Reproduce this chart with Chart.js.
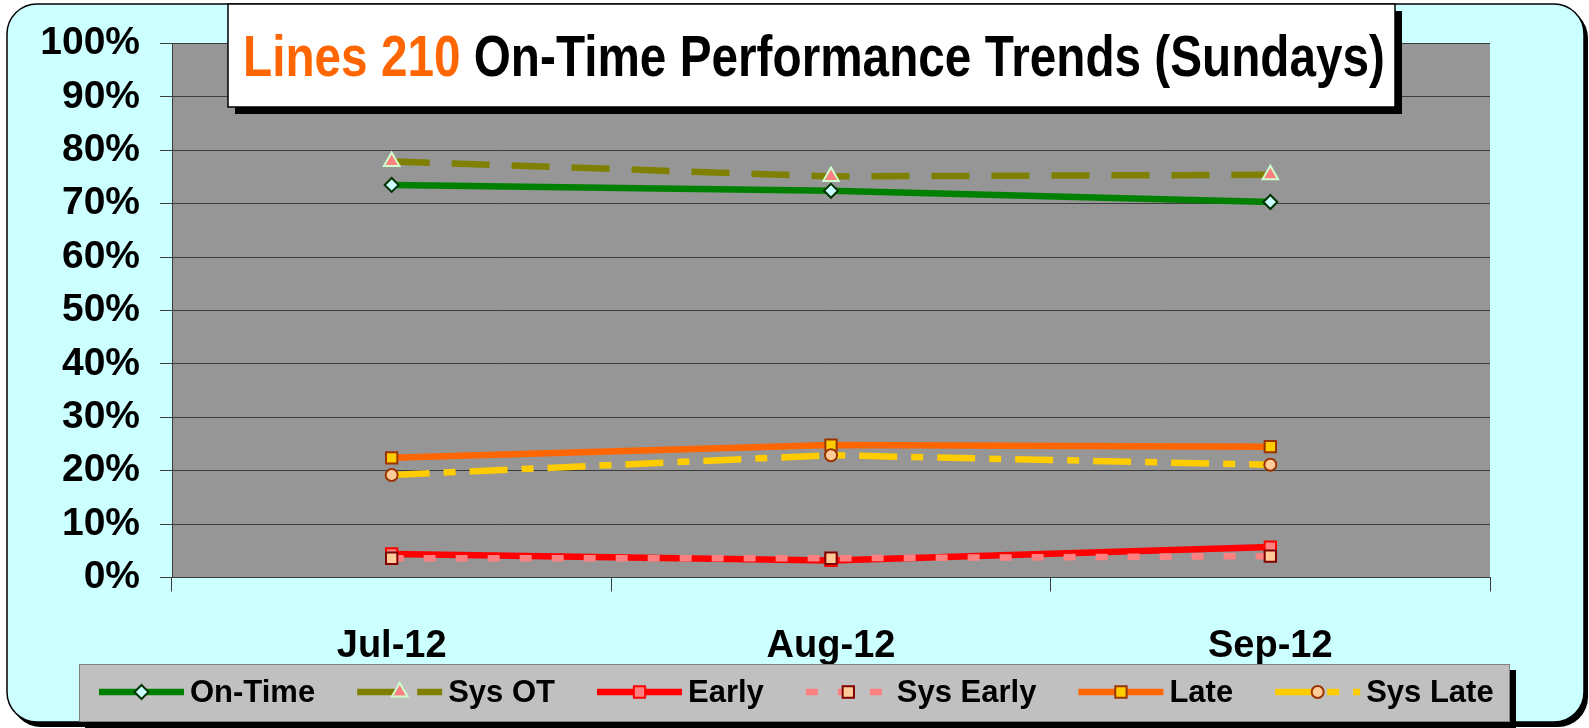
<!DOCTYPE html>
<html>
<head>
<meta charset="utf-8">
<script src="https://cdn.jsdelivr.net/npm/chart.js@4.4.1/dist/chart.umd.min.js"></script>
<style>
  html, body { margin: 0; padding: 0; background: #ffffff; }
  #wrap { position: relative; width: 1589px; height: 728px; }
</style>
</head>
<body>
<div id="wrap"><canvas id="c" width="1589" height="728"></canvas></div>
<script>
// ---- data ----
const categories = ['Jul-12', 'Aug-12', 'Sep-12'];
const seriesNames = ['On-Time', 'Sys OT', 'Early', 'Sys Early', 'Late', 'Sys Late'];
const onTime   = [73.5, 72.4, 70.3];
const sysOT    = [77.9, 75.1, 75.4];
const early    = [4.4, 3.2, 5.7];
const sysEarly = [3.6, 3.6, 4.0];
const late     = [22.4, 24.8, 24.5];
const sysLate  = [19.2, 22.9, 21.1];
const yTicks   = [0, 10, 20, 30, 40, 50, 60, 70, 80, 90, 100];
const titleA = 'Lines 210 ';
const titleB = 'On-Time Performance Trends (Sundays)';

const FONT = '"Liberation Sans", Arial, sans-serif';

const styles = [
  { line: '#008000', dash: [],              ps: 'rectRot',  r: 7, fill: '#CCFFFF', border: '#003300' },
  { line: '#808000', dash: [38, 22],        ps: 'triangle', r: 9, fill: '#FF8080', border: '#CCFFCC' },
  { line: '#FF0000', dash: [],              ps: 'rect',     r: 8, fill: '#FF8080', border: '#FF0000' },
  { line: '#FF8080', dash: [12, 20],        ps: 'rect',     r: 8, fill: '#FFCC99', border: '#800000' },
  { line: '#FF6600', dash: [],              ps: 'rect',     r: 8, fill: '#FFCC00', border: '#993300' },
  { line: '#FFCC00', dash: [38, 14, 12, 14], ps: 'circle',  r: 6, fill: '#FFCC99', border: '#993300' }
];
const values = [onTime, sysOT, early, sysEarly, late, sysLate];

const datasets = values.map((v, i) => ({
  label: seriesNames[i],
  data: v,
  borderColor: styles[i].line,
  backgroundColor: styles[i].fill,
  borderWidth: 6.5,
  borderDash: styles[i].dash,
  borderCapStyle: 'butt',
  tension: 0,
  pointStyle: styles[i].ps,
  pointRadius: styles[i].r,
  pointHoverRadius: styles[i].r,
  pointBackgroundColor: styles[i].fill,
  pointBorderColor: styles[i].border,
  pointBorderWidth: 2,
  order: 6 - i
}));

function roundRect(ctx, x, y, w, h, r) {
  ctx.beginPath();
  ctx.moveTo(x + r, y);
  ctx.lineTo(x + w - r, y);
  ctx.arcTo(x + w, y, x + w, y + r, r);
  ctx.lineTo(x + w, y + h - r);
  ctx.arcTo(x + w, y + h, x + w - r, y + h, r);
  ctx.lineTo(x + r, y + h);
  ctx.arcTo(x, y + h, x, y + h - r, r);
  ctx.lineTo(x, y + r);
  ctx.arcTo(x, y, x + r, y, r);
  ctx.closePath();
}

const decor = {
  id: 'decor',
  beforeDraw(chart) {
    const ctx = chart.ctx;
    const a = chart.chartArea;
    ctx.save();
    // outer rounded panel with shadow
    roundRect(ctx, 11, 8, 1577, 719, 30);
    ctx.fillStyle = '#000';
    ctx.fill();
    roundRect(ctx, 7, 4, 1577, 718, 30);
    ctx.fillStyle = '#CCFFFF';
    ctx.fill();
    ctx.lineWidth = 1.5;
    ctx.strokeStyle = '#000';
    ctx.stroke();
    // plot background
    ctx.fillStyle = '#969696';
    ctx.fillRect(a.left, a.top, a.right - a.left, a.bottom - a.top);
    ctx.restore();
  },
  afterDraw(chart) {
    const ctx = chart.ctx;
    ctx.save();
    // title box
    const tx = 228, ty = 4, tw = 1167, th = 103;
    ctx.fillStyle = '#000';
    ctx.fillRect(tx + 7, ty + 7, tw, th);
    ctx.fillStyle = '#fff';
    ctx.fillRect(tx, ty, tw, th);
    ctx.lineWidth = 1.5;
    ctx.strokeStyle = '#000';
    ctx.strokeRect(tx, ty, tw, th);
    ctx.font = 'bold 58px ' + FONT;
    ctx.textBaseline = 'alphabetic';
    const wA = ctx.measureText(titleA).width;
    const wB = ctx.measureText(titleB).width;
    const sx = 1142 / (wA + wB);
    ctx.save();
    ctx.translate(243, 76);
    ctx.scale(sx, 1);
    ctx.fillStyle = '#FF6600';
    ctx.fillText(titleA, 0, 0);
    ctx.fillStyle = '#000';
    ctx.fillText(titleB, wA, 0);
    ctx.restore();

    // legend box
    const lx = 79, ly = 664, lw = 1431, lh = 58;
    ctx.fillStyle = '#000';
    ctx.fillRect(lx + 6, ly + 6, lw, lh);
    ctx.fillStyle = '#C0C0C0';
    ctx.fillRect(lx, ly, lw, lh);
    ctx.lineWidth = 1;
    ctx.strokeStyle = '#808080';
    ctx.strokeRect(lx + 0.5, ly + 0.5, lw - 1, lh - 1);

    ctx.font = 'bold 31px ' + FONT;
    ctx.textBaseline = 'middle';
    let x = 99;
    const cy = 692;
    chart.data.datasets.forEach((ds, i) => {
      ctx.save();
      ctx.beginPath();
      ctx.setLineDash(ds.borderDash || []);
      ctx.lineCap = 'butt';
      ctx.lineWidth = ds.borderWidth;
      ctx.strokeStyle = ds.borderColor;
      ctx.moveTo(x, cy);
      ctx.lineTo(x + 85, cy);
      ctx.stroke();
      ctx.setLineDash([]);
      ctx.fillStyle = ds.pointBackgroundColor;
      ctx.strokeStyle = ds.pointBorderColor;
      ctx.lineWidth = ds.pointBorderWidth;
      Chart.helpers.drawPoint(ctx, {
        pointStyle: ds.pointStyle, radius: ds.pointRadius, rotation: 0, borderWidth: ds.pointBorderWidth
      }, x + 42.5, cy);
      ctx.restore();
      ctx.fillStyle = '#000';
      ctx.fillText(ds.label, x + 91, cy + 1);
      x = x + 91 + ctx.measureText(ds.label).width + 42;
    });
    ctx.restore();
  }
};

new Chart(document.getElementById('c'), {
  type: 'line',
  data: { labels: categories, datasets },
  options: {
    responsive: false,
    animation: false,
    devicePixelRatio: 1,
    layout: { padding: { top: 41, right: 99, bottom: 0, left: 0 } },
    plugins: { legend: { display: false }, title: { display: false }, tooltip: { enabled: false } },
    scales: {
      x: {
        type: 'category',
        offset: true,
        afterFit(s) { s.height = 150.5; },
        grid: { display: true, drawOnChartArea: false, drawTicks: true, tickLength: 14, offset: true, color: '#3c3c3c', lineWidth: 1 },
        border: { display: true, color: '#3c3c3c', width: 1 },
        ticks: { color: '#000', font: { family: FONT, size: 38, weight: 'bold' }, padding: 32, maxRotation: 0 }
      },
      y: {
        min: 0, max: 100,
        afterFit(s) { s.width = 172; },
        afterBuildTicks(s) { s.ticks = yTicks.map(v => ({ value: v })); },
        grid: { color: '#3c3c3c', lineWidth: 1, tickLength: 12, drawTicks: true },
        border: { display: true, color: '#3c3c3c', width: 1 },
        ticks: { color: '#000', font: { family: FONT, size: 39, weight: 'bold' }, padding: 20, callback: v => v + '%' }
      }
    }
  },
  plugins: [decor]
});
</script>
</body>
</html>
